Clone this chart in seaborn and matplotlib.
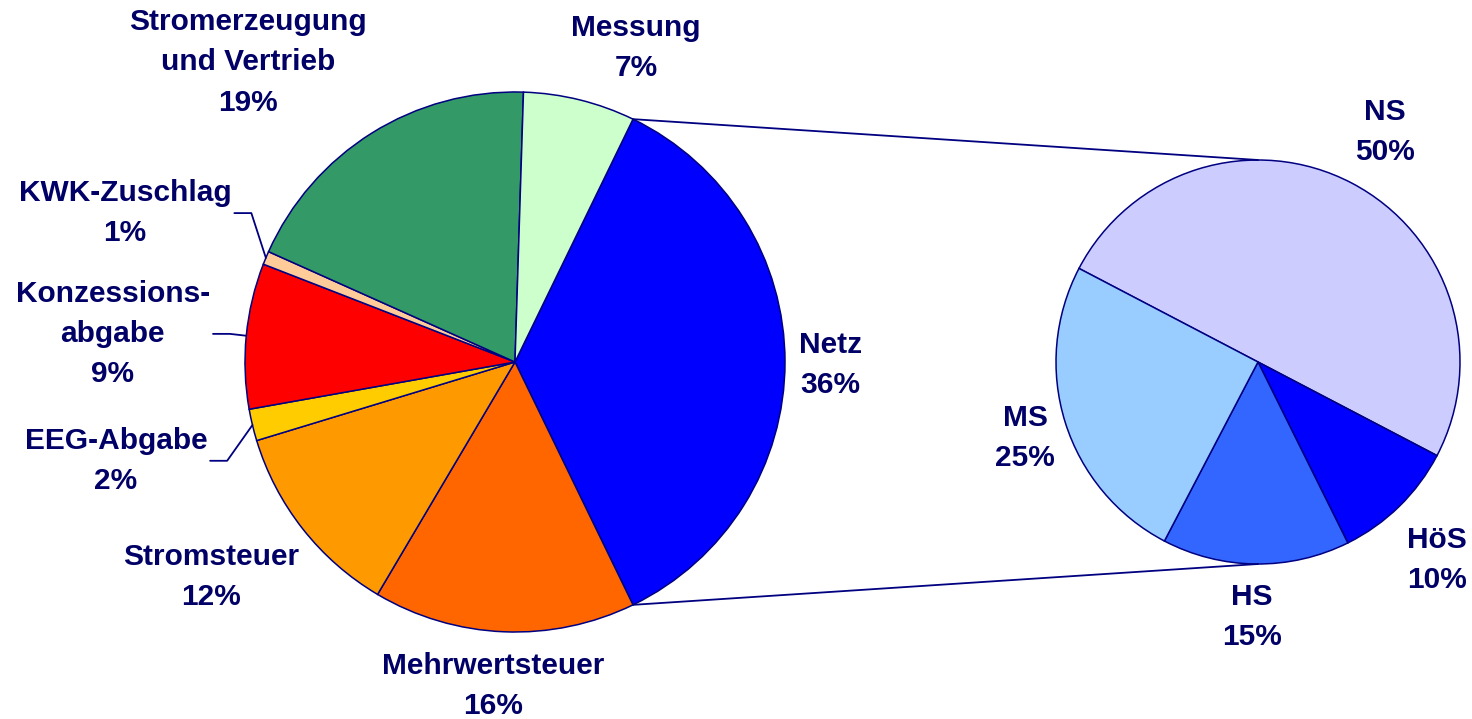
import matplotlib
matplotlib.use("Agg")
import matplotlib.pyplot as plt
import seaborn as sns
import numpy as np

# Strompreis-Zusammensetzung (Anteile in %), im Uhrzeigersinn ab Netz
kategorien = ["Netz", "Mehrwertsteuer", "Stromsteuer", "EEG-Abgabe",
              "Konzessions-\nabgabe", "KWK-Zuschlag", "Stromerzeugung\nund Vertrieb", "Messung"]
anteile = [35.6, 15.7, 11.8, 1.9, 8.7, 0.8, 18.8, 6.7]

# Aufteilung des Netzanteils nach Spannungsebenen
ebenen = ["NS", "HöS", "HS", "MS"]
ebenen_anteile = [50, 10, 15, 25]

farben = ["#0000FF", "#FF6600", "#FF9900", "#FFCC00", "#FF0000", "#FFCC99", "#339966", "#CCFFCC"]
farben2 = ["#CCCCFF", "#0000FF", "#3366FF", "#99CCFF"]

# layout: label position as (angle deg, distance / radius), leader line yes/no
pos1 = [(-0.5, 1.167), (-93.9, 1.203), (-144.7, 1.379), (193.9, 1.523),
        (176.0, 1.493), (159.1, 1.546), (131.7, 1.487), (68.9, 1.246)]
leader1 = [False, False, False, True, True, True, False, False]
pos2 = [(61.1, 1.30), (-47.9, 1.32), (-91.3, 1.262), (198.1, 1.213)]

W, H = 1472, 719
c1, r1 = (515, H - 362), 270
c2, r2 = (1258, H - 362), 202
navy = "#000080"
txt_col = "#000066"

sns.set_theme(style="white")
plt.rcParams["font.family"] = ["Liberation Sans", "DejaVu Sans"]

fig = plt.figure(figsize=(W / 100, H / 100), dpi=100)
ax = fig.add_axes([0, 0, 1, 1])

start1 = 360 * anteile[0] / sum(anteile) / 2
w1, _ = ax.pie(anteile, colors=farben, startangle=start1, counterclock=False,
               center=c1, radius=r1,
               wedgeprops=dict(edgecolor=navy, linewidth=1.1))
w2, _ = ax.pie(ebenen_anteile, colors=farben2, startangle=152.4, counterclock=False,
               center=c2, radius=r2,
               wedgeprops=dict(edgecolor=navy, linewidth=1.1))

ax.set_xlim(0, W)
ax.set_ylim(0, H)
ax.set_aspect("equal")
ax.axis("off")

def pt(c, r, ang):
    a = np.deg2rad(ang)
    return c[0] + r * np.cos(a), c[1] + r * np.sin(a)

# connector lines from the Netz wedge to the second pie
netz = w1[0]
x0, y0 = pt(c1, r1, netz.theta2)
ax.plot([x0, c2[0]], [y0, c2[1] + r2], color=navy, lw=1.3)
x0, y0 = pt(c1, r1, netz.theta1)
ax.plot([x0, c2[0]], [y0, c2[1] - r2], color=navy, lw=1.3)

fs = 21.5
ls = 1.56
texte = []
tot = sum(anteile)
for i, (lab, v) in enumerate(zip(kategorien, anteile)):
    x, y = pt(c1, r1 * pos1[i][1], pos1[i][0])
    t = ax.text(x, y, f"{lab}\n{round(v / tot * 100)}%", ha="center", va="center",
                ma="center", fontsize=fs, fontweight="bold", color=txt_col, linespacing=ls)
    texte.append(t)

tot2 = sum(ebenen_anteile)
for i, (lab, v) in enumerate(zip(ebenen, ebenen_anteile)):
    x, y = pt(c2, r2 * pos2[i][1], pos2[i][0])
    ax.text(x, y, f"{lab}\n{round(v / tot2 * 100)}%", ha="center", va="center",
            ma="center", fontsize=fs, fontweight="bold", color=txt_col, linespacing=ls)

# leader lines for the small slices
fig.canvas.draw()
inv = ax.transData.inverted()
for i, w in enumerate(w1):
    if not leader1[i]:
        continue
    bb = texte[i].get_window_extent().transformed(inv)
    xs = bb.x1 + 3
    ys = (bb.y0 + bb.y1) / 2
    mid = (w.theta1 + w.theta2) / 2
    xe, ye = pt(c1, r1, mid)
    ax.plot([xs, xs + 17, xe], [ys, ys, ye], color=navy, lw=1.3)

fig.savefig("out.png", dpi=100, facecolor="white")
